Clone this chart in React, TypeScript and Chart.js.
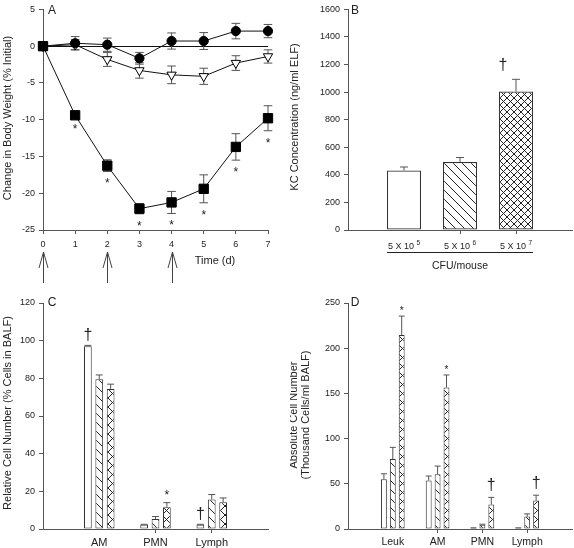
import React, { useEffect, useRef } from 'react';
import { Chart, registerables } from 'chart.js';

Chart.register(...registerables);

const FONT = '"Liberation Sans", Arial, Helvetica, sans-serif';
const TEXT = '#222';
const AXIS = '#555';
const ERR = '#555';

// ---------------- Panel A: body weight ----------------
const days = [0, 1, 2, 3, 4, 5, 6, 7];
const lowDoseWeight = [0, 0.4, 0.2, -1.65, 0.7, 0.7, 2.05, 2.05];
const lowDoseErr = [0, 0.9, 0.9, 0.8, 1.1, 1.15, 1.05, 0.9];
const midDoseWeight = [0, 0.2, -1.8, -3.3, -3.9, -4.1, -2.3, -1.4];
const midDoseErr = [0, 0.7, 0.95, 1.05, 1.2, 1.1, 1.0, 0.9];
const highDoseWeight = [0, -9.4, -16.25, -22.1, -21.25, -19.4, -13.7, -9.8];
const highDoseErr = [0, 0.3, 0.8, 0.7, 1.5, 1.9, 1.8, 1.7];
const highDoseSig = ['', '*', '*', '*', '*', '*', '*', '*'];
const dosingDays = [0, 2, 4];

// ---------------- Panel B: KC ----------------
const cfuMantissa = ['5 X 10', '5 X 10', '5 X 10'];
const cfuExponent = ['5', '6', '7'];
const kcValues = [432, 493, 1005];
const kcErr = [25, 33, 88];
const kcSig = ['', '', '†'];

// ---------------- Panel C: relative cells ----------------
const relCategories = ['AM', 'PMN', 'Lymph'];
const relLow = [97.1, 2.3, 2.3];
const relLowErr = [0.4, 0.2, 0.2];
const relMid = [79.5, 5.3, 15.6];
const relMidErr = [2.3, 1.3, 2.7];
const relHigh = [74.4, 11.5, 14.2];
const relHighErr = [2.5, 2.5, 2.3];
const relLowSig = ['†', '', '†'];
const relMidSig = ['', '', ''];
const relHighSig = ['', '*', ''];

// ---------------- Panel D: absolute cells ----------------
const absCategories = ['Leuk', 'AM', 'PMN', 'Lymph'];
const absLow = [55.1, 53.6, 1.0, 1.0];
const absLowErr = [6, 5, 0.3, 0.3];
const absMid = [77.3, 60.6, 4.8, 13.7];
const absMidErr = [13, 9, 0.5, 3];
const absHigh = [214.5, 156.4, 27, 31.4];
const absHighErr = [21, 14, 8, 6];
const absLowSig = ['', '', '', ''];
const absMidSig = ['', '', '', ''];
const absHighSig = ['*', '*', '†', '†'];

// ---------------- helpers ----------------
const pad = (arr: any[]) => [null, ...arr, null];
const plainTick = (v: any) => String(v);

function makePattern(kind: 'diag' | 'cross', size: number) {
  const c = document.createElement('canvas');
  c.width = size;
  c.height = size;
  const g = c.getContext('2d')!;
  g.fillStyle = '#fff';
  g.fillRect(0, 0, size, size);
  g.strokeStyle = '#222';
  g.lineWidth = 1;
  g.beginPath();
  for (let k = -1; k <= 1; k++) {
    g.moveTo(k * size, 0);
    g.lineTo(k * size + size, size);
  }
  if (kind === 'cross') {
    for (let k = 0; k <= 2; k++) {
      g.moveTo(k * size, 0);
      g.lineTo(k * size - size, size);
    }
  }
  g.stroke();
  const tmp = document.createElement('canvas').getContext('2d')!;
  return tmp.createPattern(c, 'repeat')!;
}

function vText(ctx: CanvasRenderingContext2D, text: string, x: number, y: number, size: number) {
  ctx.save();
  ctx.translate(x, y);
  ctx.rotate(-Math.PI / 2);
  ctx.font = `${size}px ${FONT}`;
  ctx.fillStyle = TEXT;
  ctx.textAlign = 'center';
  ctx.textBaseline = 'middle';
  ctx.fillText(text, 0, 0);
  ctx.restore();
}

function hText(ctx: CanvasRenderingContext2D, text: string, x: number, y: number, size: number) {
  ctx.save();
  ctx.font = `${size}px ${FONT}`;
  ctx.fillStyle = TEXT;
  ctx.textAlign = 'center';
  ctx.textBaseline = 'middle';
  ctx.fillText(text, x, y);
  ctx.restore();
}

// draw '*' or '†' with its glyph centred at (x, cy)
function sigMark(ctx: CanvasRenderingContext2D, mark: string, x: number, cy: number, size: number) {
  if (!mark) return;
  ctx.save();
  ctx.font = `${size}px ${FONT}`;
  ctx.fillStyle = TEXT;
  ctx.textAlign = 'center';
  ctx.textBaseline = 'alphabetic';
  const k = mark === '*' ? 0.57 : 0.29;
  ctx.fillText(mark, x, cy + k * size);
  ctx.restore();
}

function errBar(ctx: CanvasRenderingContext2D, x: number, y1: number, y2: number, cap: number, capTop = true, capBottom = true) {
  ctx.beginPath();
  ctx.moveTo(x, y1);
  ctx.lineTo(x, y2);
  if (capTop) {
    ctx.moveTo(x - cap, y1);
    ctx.lineTo(x + cap, y1);
  }
  if (capBottom) {
    ctx.moveTo(x - cap, y2);
    ctx.lineTo(x + cap, y2);
  }
  ctx.stroke();
}

const gridCfg = (hideEdgesOf?: number) => ({
  display: true,
  drawOnChartArea: false,
  drawTicks: true,
  tickLength: 4,
  offset: false,
  lineWidth: 1,
  color: (c: any) =>
    hideEdgesOf !== undefined && (c.index === 0 || c.index === hideEdgesOf - 1) ? 'rgba(0,0,0,0)' : AXIS,
});
const borderCfg = { display: true, color: AXIS, width: 1 };
const tickFont = (size: number) => ({ size, family: FONT });

const baseOptions = {
  responsive: false,
  maintainAspectRatio: false,
  animation: false as const,
  devicePixelRatio: 1,
  events: [] as any[],
  plugins: { legend: { display: false }, tooltip: { enabled: false } },
};

// ---------------- Panel A config ----------------
function buildA(): any {
  const series = [
    { vals: lowDoseWeight, errs: lowDoseErr, style: 'circle', r: 4.6, fill: '#000', rot: 0 },
    { vals: midDoseWeight, errs: midDoseErr, style: 'triangle', r: 5.4, fill: '#fff', rot: 180 },
    { vals: highDoseWeight, errs: highDoseErr, style: 'rect', r: 6.6, fill: '#000', rot: 0 },
  ];
  const plugin = {
    id: 'panelA',
    beforeDatasetsDraw(chart: any) {
      const { ctx, chartArea, scales } = chart;
      const ys = scales.y;
      ctx.save();
      ctx.strokeStyle = '#111';
      ctx.lineWidth = 1;
      const y0 = Math.round(ys.getPixelForValue(0)) + 0.5;
      ctx.beginPath();
      ctx.moveTo(chartArea.left, y0);
      ctx.lineTo(chartArea.right, y0);
      ctx.stroke();
      ctx.strokeStyle = ERR;
      series.forEach((s, i) => {
        const meta = chart.getDatasetMeta(i);
        s.vals.forEach((v, j) => {
          const e = s.errs[j];
          if (!e) return;
          const x = meta.data[j].x;
          errBar(ctx, x, ys.getPixelForValue(v + e), ys.getPixelForValue(v - e), 4.3);
        });
      });
      ctx.restore();
    },
    afterDraw(chart: any) {
      const { ctx, chartArea, scales } = chart;
      const xs = scales.x;
      const ys = scales.y;
      highDoseWeight.forEach((v, j) => {
        const x = xs.getPixelForValue(days[j]);
        sigMark(ctx, highDoseSig[j], x, ys.getPixelForValue(v - highDoseErr[j]) + 9, 12);
      });
      ctx.save();
      ctx.strokeStyle = '#444';
      ctx.lineWidth = 1;
      dosingDays.forEach((d) => {
        const x = Math.round(xs.getPixelForValue(d)) + 0.5;
        const tip = chartArea.bottom + 22;
        ctx.beginPath();
        ctx.moveTo(x, tip);
        ctx.lineTo(x, chartArea.bottom + 53);
        ctx.moveTo(x - 4.5, tip + 16);
        ctx.lineTo(x, tip);
        ctx.lineTo(x + 4.5, tip + 16);
        ctx.stroke();
      });
      ctx.restore();
      hText(ctx, 'Time (d)', 215, 261, 11);
      vText(ctx, 'Change in Body Weight (% Initial)', 8, 118, 11);
      hText(ctx, 'A', 52, 11, 12);
    },
  };
  return {
    type: 'line',
    data: {
      datasets: series.map((s) => ({
        data: days.map((d, i) => ({ x: d, y: s.vals[i] })),
        borderColor: '#111',
        borderWidth: 1,
        tension: 0,
        fill: false,
        clip: false,
        pointStyle: s.style,
        pointRadius: s.r,
        pointRotation: s.rot,
        pointBackgroundColor: s.fill,
        pointBorderColor: '#000',
        pointBorderWidth: 1,
      })),
    },
    options: {
      ...baseOptions,
      layout: { padding: { left: 0, top: 6, right: 22, bottom: 0 } },
      scales: {
        x: {
          type: 'linear',
          min: 0,
          max: 7,
          ticks: { stepSize: 1, font: tickFont(9), color: TEXT, padding: 5, maxRotation: 0, callback: plainTick },
          grid: gridCfg(),
          border: borderCfg,
          afterFit: (s: any) => {
            s.height = 60;
          },
        },
        y: {
          type: 'linear',
          min: -25,
          max: 5,
          ticks: { stepSize: 5, font: tickFont(9), color: TEXT, padding: 4, callback: plainTick },
          grid: gridCfg(),
          border: borderCfg,
          afterFit: (s: any) => {
            s.width = 43;
          },
        },
      },
    },
    plugins: [plugin],
  };
}

// ---------------- Panel B config ----------------
function buildB(): any {
  const labels = pad(cfuMantissa.map((m, i) => `${m} ${cfuExponent[i]}`));
  const colors = pad(['#fff', makePattern('diag', 9), makePattern('cross', 7)]);
  const plugin = {
    id: 'panelB',
    afterDatasetsDraw(chart: any) {
      const { ctx, scales } = chart;
      const ys = scales.y;
      const meta = chart.getDatasetMeta(0);
      ctx.save();
      ctx.strokeStyle = ERR;
      ctx.lineWidth = 1;
      kcValues.forEach((v, i) => {
        const el = meta.data[i + 1];
        errBar(ctx, el.x, ys.getPixelForValue(v + kcErr[i]), ys.getPixelForValue(v), 4, true, false);
        sigMark(ctx, kcSig[i], el.x - 13, ys.getPixelForValue(v + kcErr[i]) - 14, 16);
      });
      ctx.restore();
    },
    afterDraw(chart: any) {
      const { ctx } = chart;
      const meta = chart.getDatasetMeta(0);
      const fMain = `9px ${FONT}`;
      const fSup = `6.5px ${FONT}`;
      ctx.save();
      ctx.fillStyle = TEXT;
      ctx.textAlign = 'left';
      ctx.textBaseline = 'alphabetic';
      cfuMantissa.forEach((m, i) => {
        const x = meta.data[i + 1].x;
        ctx.font = fMain;
        const w1 = ctx.measureText(m + ' ').width;
        ctx.font = fSup;
        const w2 = ctx.measureText(cfuExponent[i]).width;
        const x0 = x - (w1 + w2) / 2;
        ctx.font = fMain;
        ctx.fillText(m, x0, 249);
        ctx.font = fSup;
        ctx.fillText(cfuExponent[i], x0 + w1, 245);
      });
      const first = meta.data[1];
      const last = meta.data[cfuMantissa.length];
      ctx.strokeStyle = '#222';
      ctx.lineWidth = 1;
      ctx.beginPath();
      ctx.moveTo(first.x - first.width / 2, 252.5);
      ctx.lineTo(last.x + last.width / 2, 252.5);
      ctx.stroke();
      ctx.restore();
      hText(ctx, 'CFU/mouse', meta.data[2].x, 266, 10.5);
      vText(ctx, 'KC Concentration (ng/ml ELF)', 5, 117, 11);
      hText(ctx, 'B', 65, 11, 12);
    },
  };
  return {
    type: 'bar',
    data: {
      labels,
      datasets: [
        {
          data: pad(kcValues),
          backgroundColor: colors,
          borderColor: '#333',
          borderWidth: 1.2,
          borderSkipped: false,
          categoryPercentage: 0.8,
          barPercentage: 0.76,
        },
      ],
    },
    options: {
      ...baseOptions,
      layout: { padding: { left: 0, top: 5, right: 2, bottom: 0 } },
      scales: {
        x: {
          type: 'category',
          offset: false,
          ticks: { display: false },
          grid: gridCfg(labels.length),
          border: borderCfg,
          afterFit: (s: any) => {
            s.height = 50;
          },
        },
        y: {
          type: 'linear',
          min: 0,
          max: 1600,
          ticks: { stepSize: 200, font: tickFont(9), color: TEXT, padding: 4, callback: plainTick },
          grid: gridCfg(),
          border: borderCfg,
          afterFit: (s: any) => {
            s.width = 58;
          },
        },
      },
    },
    plugins: [plugin],
  };
}

// ---------------- grouped bar config (C, D) ----------------
function buildGrouped(opts: {
  id: string;
  categories: string[];
  values: number[][];
  errors: number[][];
  sigs: string[][];
  yMax: number;
  yStep: number;
  catPct: number;
  barPct: number;
  cap: number;
  starSize: number;
  starGap: number;
  daggerGap: number;
  catFont: number;
  yWidth: number;
  rightPad: number;
  drawTitles: (ctx: CanvasRenderingContext2D) => void;
  letter: string;
  letterX: number;
}): any {
  const labels = pad(opts.categories);
  const fills = ['#fff', makePattern('diag', 9), makePattern('cross', 9)];
  const plugin = {
    id: opts.id,
    afterDatasetsDraw(chart: any) {
      const { ctx, scales } = chart;
      const ys = scales.y;
      ctx.save();
      ctx.strokeStyle = ERR;
      ctx.lineWidth = 1;
      opts.values.forEach((vals, di) => {
        const meta = chart.getDatasetMeta(di);
        vals.forEach((v, j) => {
          const el = meta.data[j + 1];
          const top = ys.getPixelForValue(v + opts.errors[di][j]);
          errBar(ctx, el.x, top, ys.getPixelForValue(v), opts.cap, true, false);
          const mark = opts.sigs[di][j];
          const gap = mark === '*' ? opts.starGap : opts.daggerGap;
          sigMark(ctx, mark, el.x, top - gap, mark === '*' ? opts.starSize : 16);
        });
      });
      ctx.restore();
    },
    afterDraw(chart: any) {
      opts.drawTitles(chart.ctx);
      hText(chart.ctx, opts.letter, opts.letterX, 13, 12);
    },
  };
  return {
    type: 'bar',
    data: {
      labels,
      datasets: opts.values.map((vals, di) => ({
        data: pad(vals),
        backgroundColor: fills[di],
        borderColor: '#333',
        borderWidth: 1,
        borderSkipped: false,
        categoryPercentage: opts.catPct,
        barPercentage: opts.barPct,
      })),
    },
    options: {
      ...baseOptions,
      layout: { padding: { left: 0, top: 13, right: opts.rightPad, bottom: 0 } },
      scales: {
        x: {
          type: 'category',
          offset: false,
          ticks: { font: tickFont(opts.catFont), color: TEXT, padding: 3, maxRotation: 0, autoSkip: false },
          grid: gridCfg(labels.length),
          border: borderCfg,
          afterFit: (s: any) => {
            s.height = 19;
          },
        },
        y: {
          type: 'linear',
          min: 0,
          max: opts.yMax,
          ticks: { stepSize: opts.yStep, font: tickFont(9), color: TEXT, padding: 4, callback: plainTick },
          grid: gridCfg(),
          border: borderCfg,
          afterFit: (s: any) => {
            s.width = opts.yWidth;
          },
        },
      },
    },
    plugins: [plugin],
  };
}

function buildC(): any {
  return buildGrouped({
    id: 'panelC',
    categories: relCategories,
    values: [relLow, relMid, relHigh],
    errors: [relLowErr, relMidErr, relHighErr],
    sigs: [relLowSig, relMidSig, relHighSig],
    yMax: 120,
    yStep: 20,
    catPct: 0.607,
    barPct: 0.68,
    cap: 3.5,
    starSize: 12,
    starGap: 10,
    daggerGap: 10,
    catFont: 11,
    yWidth: 43,
    rightPad: 22,
    drawTitles: (ctx) => vText(ctx, 'Relative Cell Number (% Cells in BALF)', 8, 123, 11),
    letter: 'C',
    letterX: 52,
  });
}

function buildD(): any {
  return buildGrouped({
    id: 'panelD',
    categories: absCategories,
    values: [absLow, absMid, absHigh],
    errors: [absLowErr, absMidErr, absHighErr],
    sigs: [absLowSig, absMidSig, absHighSig],
    yMax: 250,
    yStep: 50,
    catPct: 0.596,
    barPct: 0.66,
    cap: 3,
    starSize: 10,
    starGap: 8,
    daggerGap: 12,
    catFont: 10.5,
    yWidth: 58,
    rightPad: 2,
    drawTitles: (ctx) => {
      vText(ctx, 'Absolute Cell Number', 4, 125, 11);
      vText(ctx, '(Thousand Cells/ml BALF)', 16, 125, 11);
    },
    letter: 'D',
    letterX: 65,
  });
}

function ChartBox(props: { left: number; top: number; width: number; height: number; build: () => any }) {
  const ref = useRef<HTMLCanvasElement>(null);
  useEffect(() => {
    const chart = new Chart(ref.current!, props.build());
    return () => chart.destroy();
  }, []);
  return (
    <canvas
      ref={ref}
      width={props.width}
      height={props.height}
      style={{ position: 'absolute', left: props.left, top: props.top, width: props.width, height: props.height }}
    />
  );
}

export default function App() {
  return (
    <div style={{ position: 'absolute', left: 0, top: 0, width: 574, height: 548, background: '#fff', overflow: 'hidden' }}>
      <ChartBox left={0} top={0} width={290} height={290} build={buildA} />
      <ChartBox left={290} top={0} width={284} height={280} build={buildB} />
      <ChartBox left={0} top={290} width={290} height={258} build={buildC} />
      <ChartBox left={290} top={290} width={284} height={258} build={buildD} />
    </div>
  );
}
